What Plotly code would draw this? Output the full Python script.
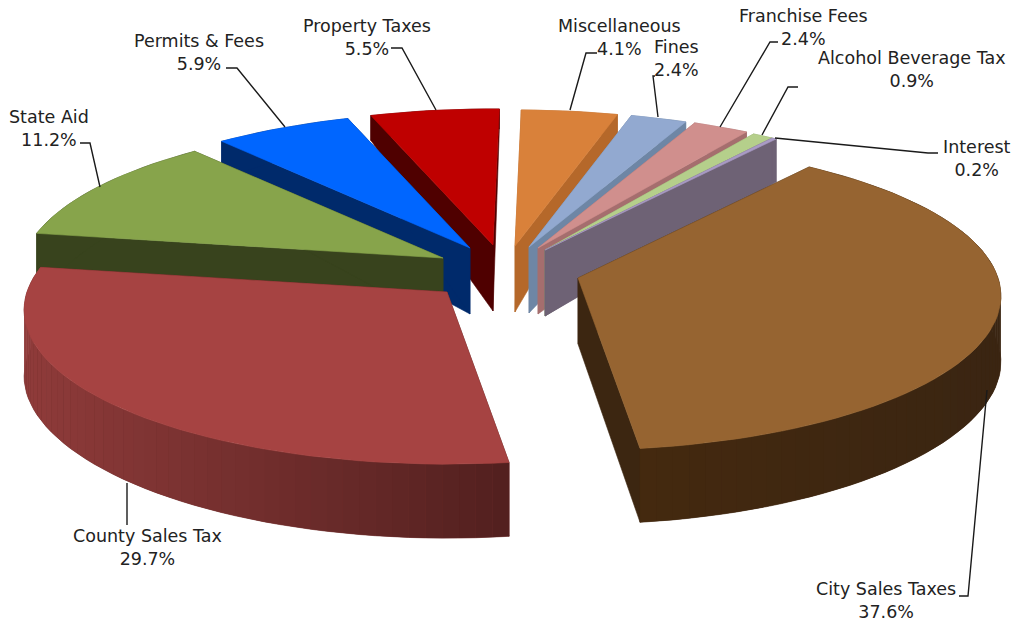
import math
import plotly.graph_objects as go

# ---- data -------------------------------------------------------------
categories = ["City Sales Taxes", "County Sales Tax", "State Aid", "Permits & Fees",
              "Property Taxes", "Miscellaneous", "Fines", "Franchise Fees",
              "Alcohol Beverage Tax", "Interest"]
values = [37.6, 29.7, 11.2, 5.9, 5.5, 4.1, 2.4, 2.4, 0.9, 0.2]

# ---- style / layout ----------------------------------------------------
top_colors = ["#966431", "#A64342", "#87A44B", "#0066FF", "#BF0000",
              "#D9813A", "#92A9D0", "#D08F8D", "#B5CF8B", "#A99BC5"]
face_colors = ["#3C2611", "#52201F", "#38431D", "#002A6B", "#4F0000",
               "#B5682A", "#6E86A5", "#A56E6E", "#8CA56A", "#6E6275"]
wall_left = ["#44290F", "#8F3B3A", "#38431D", "#002A6B", "#4F0000",
             "#B5682A", "#6E86A5", "#A56E6E", "#8CA56A", "#6E6275"]
wall_right = ["#3A2512", "#52201F", "#38431D", "#002A6B", "#4F0000",
              "#B5682A", "#6E86A5", "#A56E6E", "#8CA56A", "#6E6275"]
# exploded hub of each slice on the canvas
hubs = [(578, 278), (447, 292), (443, 258), (470, 248), (493, 245),
        (515, 246), (529, 247), (538, 248), (545, 250), (545, 250)]
back_depth = [20, 20, 20, 20, 20, 20, 20, 20, 20, 30]
draw_order = [4, 5, 6, 7, 8, 9, 3, 2, 1, 0]
label_xy = [(886, 600), (147, 547), (49, 128), (199, 52), (367, 37),
            (619, 37), (676, 58), (803, 27), (912, 69), (977, 158)]
leaders = [[(959, 596), (968, 596), (987, 390)],
           [(127, 525), (127, 483)],
           [(80, 143), (90, 143), (100, 187)],
           [(226, 68), (237, 68), (285, 127)],
           [(391, 48), (402, 48), (436, 110)],
           [(597, 53), (586, 53), (570, 110)],
           [(655, 76), (653, 76), (658, 117)],
           [(778, 42), (770, 42), (720, 127)],
           [(798, 87), (788, 87), (762, 135)],
           [(938, 153), (928, 153), (775, 138)]]
FONT = "DejaVu Sans"
FONT_SIZE = 17.5
ROT = 37.0
RX, RY, K = 420.0, 152.0, 0.117
HUB_DEPTH, FRONT_EXTRA = 66.0, 8.0


def project(hub, theta):
    rad = math.radians(theta)
    X, Y = math.sin(rad), math.cos(rad)
    s = 1.0 / (1.0 + K * Y)
    return hub[0] + RX * X * s, hub[1] - RY * Y * s, X, Y


def depth(Y, back):
    if Y > 0:
        return HUB_DEPTH - (HUB_DEPTH - back) * Y * Y
    return HUB_DEPTH + FRONT_EXTRA * Y * Y


def mix(c1, c2, t):
    a = [int(c1[i:i + 2], 16) for i in (1, 3, 5)]
    b = [int(c2[i:i + 2], 16) for i in (1, 3, 5)]
    return "#%02x%02x%02x" % tuple(round(p + (q - p) * t) for p, q in zip(a, b))


fig = go.Figure()


def poly(xs, ys, color, width=0.6):
    fig.add_trace(go.Scatter(x=xs + xs[:1], y=ys + ys[:1], mode="lines", fill="toself",
                             fillcolor=color, line=dict(color=color, width=width),
                             hoverinfo="skip", showlegend=False))


total = sum(values)
starts, a = [], ROT
for v in values:
    starts.append(a)
    a += v / total * 360.0

for i in draw_order:
    hub = hubs[i]
    t0 = starts[i]
    t1 = t0 + values[i] / total * 360.0
    n = max(2, int((t1 - t0) / 2.0))
    thetas = [t0 + (t1 - t0) * j / n for j in range(n + 1)]
    rim = [project(hub, t) for t in thetas]
    hub_h = HUB_DEPTH
    # radial faces
    for end in (rim[0], rim[-1]):
        h = depth(end[3], back_depth[i])
        poly([hub[0], end[0], end[0], hub[0]],
             [hub[1], end[1], end[1] + h, hub[1] + hub_h], face_colors[i])
    # whole outer wall as an underlay, so the shaded bands leave no seams
    low = [p[1] + depth(p[3], back_depth[i]) for p in rim]
    poly([p[0] for p in rim] + [p[0] for p in rim][::-1],
         [p[1] for p in rim] + low[::-1], mix(wall_left[i], wall_right[i], 0.5), 0.6)
    # outer wall, shaded from left to right
    if wall_left[i] != wall_right[i]:
        lo, hi = min(p[0] for p in rim), max(p[0] for p in rim)
        for j in range(n):
            p, q = rim[j], rim[j + 1]
            tt = ((p[0] + q[0]) / 2 - lo) / max(hi - lo, 1)
            poly([p[0], q[0], q[0], p[0]],
                 [p[1], q[1], low[j + 1], low[j]],
                 mix(wall_left[i], wall_right[i], tt), 0)
    # top surface
    poly([hub[0]] + [p[0] for p in rim], [hub[1]] + [p[1] for p in rim], top_colors[i])

for pts in leaders:
    fig.add_trace(go.Scatter(x=[p[0] for p in pts], y=[p[1] for p in pts], mode="lines",
                             line=dict(color="#1a1a1a", width=1.4),
                             hoverinfo="skip", showlegend=False))

for name, v, (lx, ly) in zip(categories, values, label_xy):
    fig.add_annotation(x=lx, y=ly, xref="x", yref="y", showarrow=False,
                       text=f"{name}<br>{v}%", align="center",
                       font=dict(family=FONT, size=FONT_SIZE, color="#222222"))

fig.update_layout(width=1011, height=621, margin=dict(l=0, r=0, t=0, b=0),
                  paper_bgcolor="white", plot_bgcolor="white", showlegend=False,
                  xaxis=dict(range=[0, 1011], visible=False, fixedrange=True),
                  yaxis=dict(range=[621, 0], visible=False, fixedrange=True))

fig.write_html("out.html", config={"displayModeBar": False},
               post_script="document.body.style.margin='0';")
